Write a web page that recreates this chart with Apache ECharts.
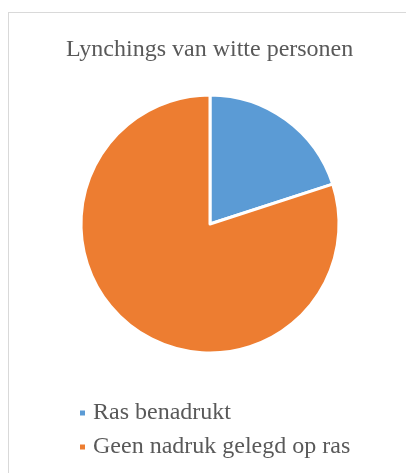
<!DOCTYPE html>
<html>
<head>
<meta charset="utf-8">
<script src="https://cdn.jsdelivr.net/npm/echarts@6/dist/echarts.min.js"></script>
<style>
html,body{margin:0;padding:0;background:#fff;overflow:hidden;}
#frame{position:absolute;left:8px;top:12px;width:420px;height:480px;border:1px solid #d9d9d9;box-sizing:border-box;}
#chart{position:absolute;left:0;top:0;width:406px;height:473px;}
</style>
</head>
<body>
<div id="frame"></div>
<div id="chart"></div>
<script>
const categories = ['Ras benadrukt', 'Geen nadruk gelegd op ras'];
const values = [20, 80];
const colors = ['#5B9BD5', '#ED7D31'];
const serif = '"Liberation Serif", "Times New Roman", serif';

const chart = echarts.init(document.getElementById('chart'));
chart.setOption({
  animation: false,
  title: {
    text: 'Lynchings van witte personen',
    left: 61,
    top: 33,
    textStyle: {fontFamily: serif, fontSize: 24, fontWeight: 'normal', color: '#595959'}
  },
  legend: {
    orient: 'vertical',
    left: 73,
    top: 396,
    icon: 'rect',
    itemWidth: 7,
    itemHeight: 7,
    itemGap: 10,
    textStyle: {fontFamily: serif, fontSize: 24, lineHeight: 24, color: '#595959', padding: [0,0,0,2]},
    data: categories
  },
  series: [{
    type: 'pie',
    center: [210, 224],
    radius: 129,
    startAngle: 90,
    clockwise: true,
    label: {show: false},
    labelLine: {show: false},
    itemStyle: {borderColor: '#fff', borderWidth: 3},
    emphasis: {disabled: true},
    data: categories.map((c, i) => ({name: c, value: values[i], itemStyle: {color: colors[i]}}))
  }]
});
</script>
</body>
</html>
